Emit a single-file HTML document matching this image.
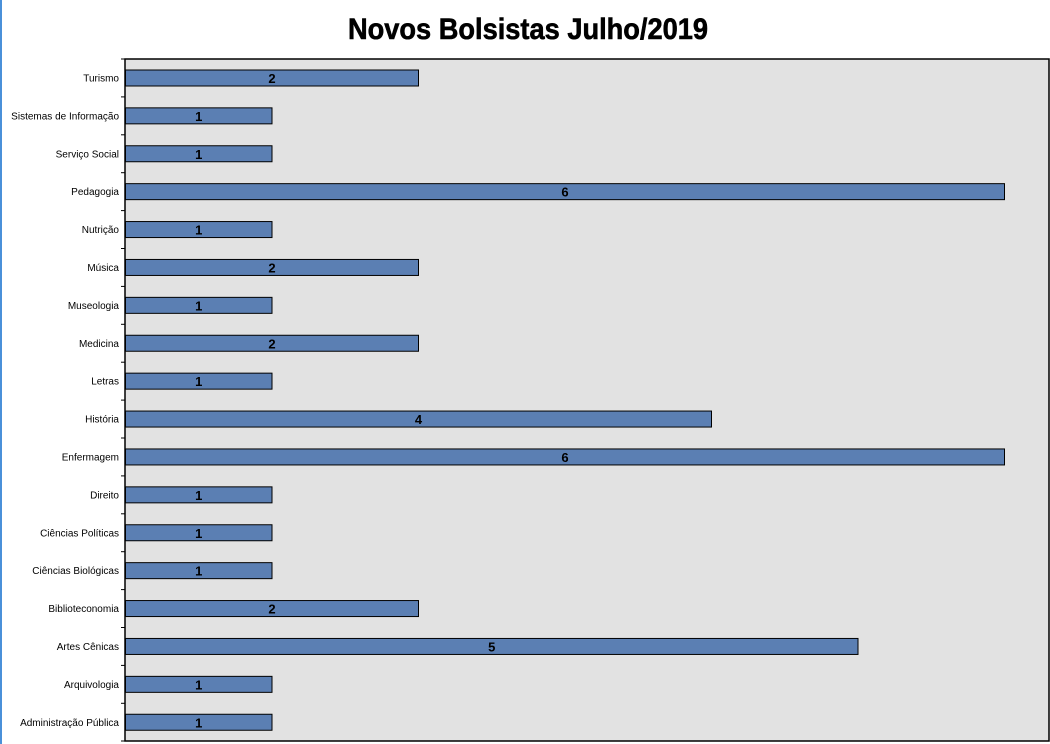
<!DOCTYPE html>
<html><head><meta charset="utf-8"><style>
html,body{margin:0;padding:0;background:#fff;}
svg{display:block;}
</style></head><body>
<svg width="1050" height="744" xmlns="http://www.w3.org/2000/svg" font-family="'Liberation Sans', sans-serif">
<rect x="0" y="0" width="1050" height="744" fill="#fff"/>
<rect x="0" y="0" width="2" height="744" fill="#4a90d9"/>
<text x="528" y="39" text-anchor="middle" font-size="30" font-weight="bold" stroke="#000" stroke-width="0.6" textLength="360" lengthAdjust="spacingAndGlyphs">Novos Bolsistas Julho/2019</text>
<rect x="125" y="59" width="924" height="682" fill="#e2e2e2" stroke="#000" stroke-width="1.5"/>
<g fill="#5b7fb3" stroke="#000" stroke-width="1">
<rect x="125.5" y="70" width="293" height="16"/>
<rect x="125.5" y="107.85" width="146.5" height="16"/>
<rect x="125.5" y="145.75" width="146.5" height="16"/>
<rect x="125.5" y="183.65" width="879" height="16"/>
<rect x="125.5" y="221.55" width="146.5" height="16"/>
<rect x="125.5" y="259.45" width="293" height="16"/>
<rect x="125.5" y="297.35" width="146.5" height="16"/>
<rect x="125.5" y="335.25" width="293" height="16"/>
<rect x="125.5" y="373.15" width="146.5" height="16"/>
<rect x="125.5" y="411.05" width="586" height="16"/>
<rect x="125.5" y="448.95" width="879" height="16"/>
<rect x="125.5" y="486.85" width="146.5" height="16"/>
<rect x="125.5" y="524.75" width="146.5" height="16"/>
<rect x="125.5" y="562.65" width="146.5" height="16"/>
<rect x="125.5" y="600.55" width="293" height="16"/>
<rect x="125.5" y="638.45" width="732.5" height="16"/>
<rect x="125.5" y="676.35" width="146.5" height="16"/>
<rect x="125.5" y="714.25" width="146.5" height="16"/>
</g>
<g font-size="10" text-anchor="end" fill="#000">
<text x="119" y="81.5">Turismo</text>
<text x="119" y="119.35">Sistemas de Informação</text>
<text x="119" y="157.25">Serviço Social</text>
<text x="119" y="195.15">Pedagogia</text>
<text x="119" y="233.05">Nutrição</text>
<text x="119" y="270.95">Música</text>
<text x="119" y="308.85">Museologia</text>
<text x="119" y="346.75">Medicina</text>
<text x="119" y="384.65">Letras</text>
<text x="119" y="422.55">História</text>
<text x="119" y="460.45">Enfermagem</text>
<text x="119" y="498.35">Direito</text>
<text x="119" y="536.25">Ciências Políticas</text>
<text x="119" y="574.15">Ciências Biológicas</text>
<text x="119" y="612.05">Biblioteconomia</text>
<text x="119" y="649.95">Artes Cênicas</text>
<text x="119" y="687.85">Arquivologia</text>
<text x="119" y="725.75">Administração Pública</text>
</g>
<g font-size="13" font-weight="bold" text-anchor="middle" fill="#000">
<text x="272" y="83">2</text>
<text x="198.75" y="120.85">1</text>
<text x="198.75" y="158.75">1</text>
<text x="565" y="196.65">6</text>
<text x="198.75" y="234.55">1</text>
<text x="272" y="272.45">2</text>
<text x="198.75" y="310.35">1</text>
<text x="272" y="348.25">2</text>
<text x="198.75" y="386.15">1</text>
<text x="418.5" y="424.05">4</text>
<text x="565" y="461.95">6</text>
<text x="198.75" y="499.85">1</text>
<text x="198.75" y="537.75">1</text>
<text x="198.75" y="575.65">1</text>
<text x="272" y="613.55">2</text>
<text x="491.75" y="651.45">5</text>
<text x="198.75" y="689.35">1</text>
<text x="198.75" y="727.25">1</text>
</g>
<g stroke="#000" stroke-width="1">
<line x1="121" y1="59" x2="125" y2="59"/>
<line x1="121" y1="96.9" x2="125" y2="96.9"/>
<line x1="121" y1="134.8" x2="125" y2="134.8"/>
<line x1="121" y1="172.7" x2="125" y2="172.7"/>
<line x1="121" y1="210.6" x2="125" y2="210.6"/>
<line x1="121" y1="248.5" x2="125" y2="248.5"/>
<line x1="121" y1="286.4" x2="125" y2="286.4"/>
<line x1="121" y1="324.3" x2="125" y2="324.3"/>
<line x1="121" y1="362.2" x2="125" y2="362.2"/>
<line x1="121" y1="400.1" x2="125" y2="400.1"/>
<line x1="121" y1="438" x2="125" y2="438"/>
<line x1="121" y1="475.9" x2="125" y2="475.9"/>
<line x1="121" y1="513.8" x2="125" y2="513.8"/>
<line x1="121" y1="551.7" x2="125" y2="551.7"/>
<line x1="121" y1="589.6" x2="125" y2="589.6"/>
<line x1="121" y1="627.5" x2="125" y2="627.5"/>
<line x1="121" y1="665.4" x2="125" y2="665.4"/>
<line x1="121" y1="703.3" x2="125" y2="703.3"/>
<line x1="121" y1="741" x2="125" y2="741"/>
</g>
</svg>
</body></html>
